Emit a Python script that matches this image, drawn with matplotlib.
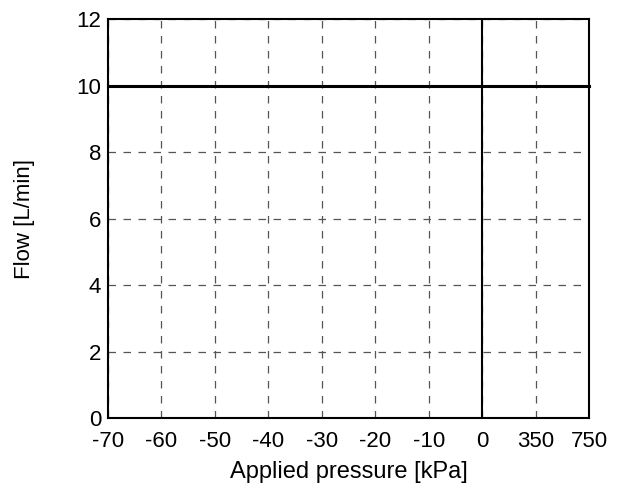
import matplotlib
matplotlib.use("Agg")
import matplotlib.pyplot as plt
import numpy as np

plt.rcParams['font.family'] = ['Liberation Sans', 'DejaVu Sans']

pressure_labels = ["-70", "-60", "-50", "-40", "-30", "-20", "-10", "0", "350", "750"]
flow = [10, 10, 10, 10, 10, 10, 10, 10, 10, 10]
zero_idx = pressure_labels.index("0")
flow_ticks = [0, 2, 4, 6, 8, 10, 12]

x = np.arange(len(pressure_labels))

fig = plt.figure(figsize=(6.23, 4.98), dpi=100)
ax = fig.add_axes([0.1734, 0.1606, 0.7720, 0.8012])

ax.plot(x, flow, color='black', lw=2.2, zorder=3, clip_on=False)
ax.axvline(zero_idx, color='black', lw=1.5, zorder=3)

ax.set_xlim(x[0], x[-1])
ax.set_ylim(0, 12)
ax.set_xticks(x)
ax.set_xticklabels(pressure_labels)
ax.set_yticks(flow_ticks)
ax.tick_params(length=0, labelsize=16)
ax.tick_params(axis='x', pad=9)
ax.tick_params(axis='y', pad=5)
ax.grid(True, color='#555555', linestyle=(0, (6, 6)), lw=0.9)

for s in ax.spines.values():
    s.set_linewidth(1.5)

ax.set_xlabel("Applied pressure [kPa]", fontsize=17, labelpad=7)
ax.set_ylabel("Flow [L/min]", fontsize=16, labelpad=30)

fig.savefig("out.png", dpi=100)
